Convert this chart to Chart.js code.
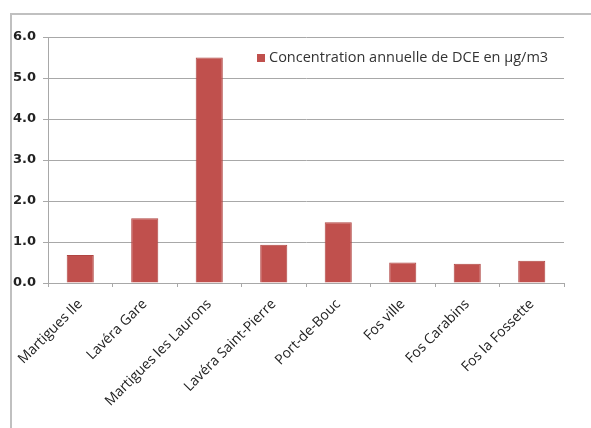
<!DOCTYPE html>
<html><head><meta charset="utf-8">
<script src="https://cdn.jsdelivr.net/npm/chart.js@4/dist/chart.umd.min.js"></script>
<style>
html,body{margin:0;padding:0;background:#fff;}
#wrap{position:relative;width:591px;height:428px;}
#frame{position:absolute;left:10px;top:13px;width:600px;height:430px;border-top:2px solid #c0c0c0;border-left:2px solid #c0c0c0;}
canvas{position:absolute;left:0;top:0;}
</style></head>
<body><div id="wrap"><div id="frame"></div><canvas id="c" width="591" height="428"></canvas></div>
<script>
const categories = ["Martigues Ile","Lavéra Gare","Martigues les Laurons","Lavéra Saint-Pierre","Port-de-Bouc","Fos ville","Fos Carabins","Fos la Fossette"];
const seriesLabel = "Concentration annuelle de DCE en µg/m3";
const values = [0.68, 1.58, 5.5, 0.93, 1.48, 0.5, 0.47, 0.54];
const yTicks = [0,1,2,3,4,5,6];

const legendInside = {
  id:'legendInside',
  afterDraw(chart){
    const ctx = chart.ctx, ds = chart.data.datasets[0];
    ctx.save();
    ctx.fillStyle = ds.backgroundColor;
    ctx.fillRect(257,54,8,8);
    ctx.fillStyle = '#333';
    ctx.font = '14.5px "Open Sans"';
    ctx.textBaseline = 'middle';
    ctx.fillText(ds.label, 269, 58);
    ctx.restore();
  }
};

new Chart(document.getElementById('c'), {
  type:'bar',
  data:{labels:categories, datasets:[{label:seriesLabel, data:values, backgroundColor:'#C0504D', borderColor:'#B04542', borderWidth:1, barPercentage:0.42, categoryPercentage:1}]},
  options:{
    responsive:false, animation:false,
    layout:{padding:{top:37,right:27,left:0,bottom:0}},
    plugins:{legend:{display:false}, tooltip:{enabled:false}},
    scales:{
      y:{min:0,max:6,
        afterFit(s){s.width=48;},
        afterBuildTicks(s){s.ticks=yTicks.map(v=>({value:v}));},
        ticks:{color:'#222',font:{family:'DejaVu Sans',size:13,weight:'bold'},padding:7,callback:v=>Number(v).toFixed(1)},
        grid:{color:'#a8a8a8',lineWidth:1,tickLength:5},
        border:{color:'#a8a8a8'}
      },
      x:{
        afterFit(s){s.height=145;},
        ticks:{color:'#222',font:{family:'Open Sans',size:14},minRotation:45,maxRotation:45,padding:9,autoSkip:false},
        grid:{drawOnChartArea:false,drawTicks:true,tickLength:4,color:'#a8a8a8',offset:true},
        border:{color:'#a8a8a8'}
      }
    }
  },
  plugins:[legendInside]
});
</script></body></html>
